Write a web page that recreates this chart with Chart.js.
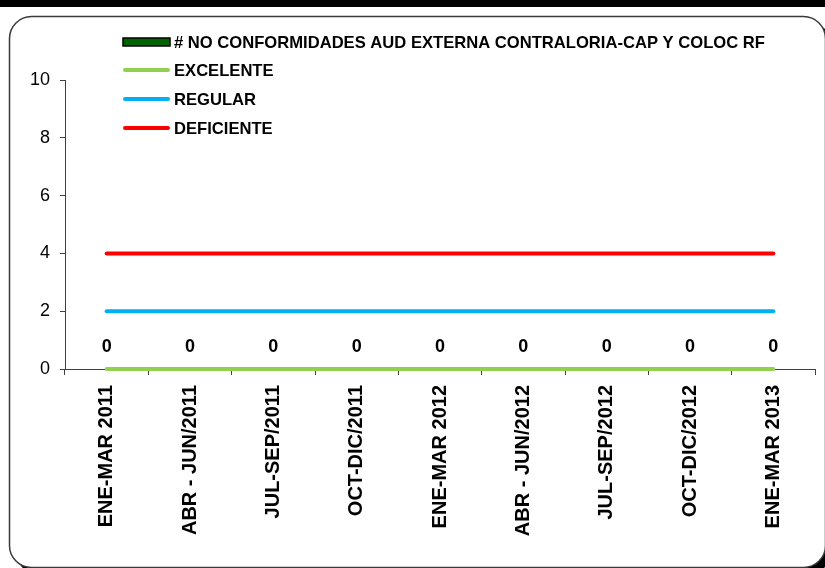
<!DOCTYPE html>
<html>
<head>
<meta charset="utf-8">
<script src="https://cdn.jsdelivr.net/npm/chart.js@4.4.1/dist/chart.umd.min.js"></script>
<style>
html,body{margin:0;padding:0;background:#fff;}
#wrap{width:825px;height:568px;position:relative;}
</style>
</head>
<body>
<div id="wrap"><canvas id="c" width="825" height="568"></canvas></div>
<script>
const categories = ['ENE-MAR 2011','ABR - JUN/2011','JUL-SEP/2011','OCT-DIC/2011','ENE-MAR 2012','ABR - JUN/2012','JUL-SEP/2012','OCT-DIC/2012','ENE-MAR 2013'];
const noConformidades = [0,0,0,0,0,0,0,0,0];
const excelente = [0,0,0,0,0,0,0,0,0];
const regular = [2,2,2,2,2,2,2,2,2];
const deficiente = [4,4,4,4,4,4,4,4,4];
const yMin = 0, yMax = 10, yStep = 2;
const seriesNames = ['# NO CONFORMIDADES AUD EXTERNA CONTRALORIA-CAP Y COLOC RF','EXCELENTE','REGULAR','DEFICIENTE'];

const FONT = '"Liberation Sans", Arial, sans-serif';

const framePlugin = {
  id: 'frame',
  beforeDraw(chart) {
    const ctx = chart.ctx;
    ctx.save();
    ctx.fillStyle = '#fff';
    ctx.fillRect(0, 0, chart.width, chart.height);
    ctx.fillStyle = '#000';
    ctx.fillRect(0, 0, chart.width, 7);
    // shadow
    ctx.beginPath();
    ctx.roundRect(15.5, 22.5, 816, 551, 22);
    ctx.fillStyle = '#000';
    ctx.fill();
    ctx.beginPath();
    ctx.roundRect(9.5, 16.5, 816, 551, 22);
    ctx.fillStyle = '#fff';
    ctx.fill();
    ctx.lineWidth = 1.5;
    ctx.strokeStyle = '#3a3a3a';
    ctx.stroke();
    ctx.restore();
  }
};

const legendPlugin = {
  id: 'customLegend',
  afterDraw(chart) {
    const ctx = chart.ctx;
    ctx.save();
    const x0 = 123, x1 = 170, tx = 174;
    const ys = [42, 70, 99, 128];
    chart.data.datasets.forEach((ds, i) => {
      const y = ys[i];
      if (i === 0) {
        ctx.fillStyle = ds.backgroundColor;
        ctx.fillRect(x0, y - 4, x1 - x0, 8);
        ctx.strokeStyle = '#000';
        ctx.lineWidth = 1.5;
        ctx.strokeRect(x0, y - 4, x1 - x0, 8);
      } else {
        ctx.beginPath();
        ctx.moveTo(x0 + 2, y);
        ctx.lineTo(x1 - 2, y);
        ctx.strokeStyle = ds.borderColor;
        ctx.lineWidth = 4;
        ctx.lineCap = 'round';
        ctx.stroke();
      }
      ctx.fillStyle = '#000';
      ctx.font = 'bold 16.6px ' + FONT;
      ctx.textBaseline = 'middle';
      ctx.textAlign = 'left';
      ctx.fillText(ds.label, tx, y + 1);
    });
    ctx.restore();
  }
};

const labelPlugin = {
  id: 'valueLabels',
  afterDatasetsDraw(chart) {
    const ctx = chart.ctx;
    const meta = chart.getDatasetMeta(0);
    ctx.save();
    ctx.font = 'bold 18px ' + FONT;
    ctx.fillStyle = '#000';
    ctx.textAlign = 'center';
    ctx.textBaseline = 'middle';
    meta.data.forEach((el, i) => {
      ctx.fillText(String(chart.data.datasets[0].data[i]), el.x, el.y - 22);
    });
    ctx.restore();
  }
};

new Chart(document.getElementById('c'), {
  type: 'bar',
  data: {
    labels: categories,
    datasets: [
      { type: 'bar', label: seriesNames[0], data: noConformidades, backgroundColor: '#006400', borderWidth: 0, order: 4 },
      { type: 'line', label: seriesNames[1], data: excelente, borderColor: '#92D050', backgroundColor: '#92D050', borderWidth: 4, pointRadius: 0, borderCapStyle: 'round', fill: false, clip: false, order: 1 },
      { type: 'line', label: seriesNames[2], data: regular, borderColor: '#00B0F0', backgroundColor: '#00B0F0', borderWidth: 4, pointRadius: 0, borderCapStyle: 'round', fill: false, clip: false, order: 2 },
      { type: 'line', label: seriesNames[3], data: deficiente, borderColor: '#FF0000', backgroundColor: '#FF0000', borderWidth: 4, pointRadius: 0, borderCapStyle: 'round', fill: false, clip: false, order: 3 }
    ]
  },
  options: {
    responsive: false,
    animation: false,
    layout: { padding: { left: 0, top: 80, right: 10, bottom: 0 } },
    plugins: { legend: { display: false }, tooltip: { enabled: false }, title: { display: false } },
    scales: {
      x: {
        afterFit(s) { s.height = 199; },
        grid: { display: true, drawOnChartArea: false, drawTicks: true, tickLength: 6, color: '#404040', offset: true },
        border: { display: true, color: '#404040', width: 1 },
        ticks: { autoSkip: false, maxRotation: 90, minRotation: 90, padding: 10, color: '#000', font: { family: FONT, size: 20, weight: 'bold' } }
      },
      y: {
        min: yMin, max: yMax,
        afterFit(s) { s.width = 65; },
        grid: { display: true, drawOnChartArea: false, drawTicks: true, tickLength: 5, color: '#404040' },
        border: { display: true, color: '#404040', width: 1 },
        ticks: { stepSize: yStep, padding: 10, color: '#000', font: { family: FONT, size: 18 } }
      }
    }
  },
  plugins: [framePlugin, labelPlugin, legendPlugin]
});
</script>
</body>
</html>
